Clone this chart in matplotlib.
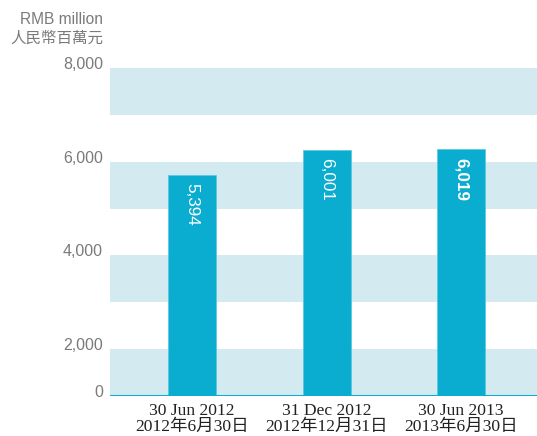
import matplotlib
matplotlib.use("Agg")
from matplotlib import pyplot as plt
from matplotlib.transforms import ScaledTranslation

# Данные
dates_en = ["30 Jun 2012", "31 Dec 2012", "30 Jun 2013"]
dates_zh = ["2012年6月30日", "2012年12月31日", "2013年6月30日"]
values = [5394, 6001, 6019]
value_labels = ["5,394", "6,001", "6,019"]
tick_labels = ["0", "2,000", "4,000", "6,000", "8,000"]
y_max = 8000

BAR = "#0aadd0"
BAND = "#d3eaf1"
GRAY = "#7a7a7a"

fig = plt.figure(figsize=(5.37, 4.36), dpi=100)
ax = fig.add_axes([110 / 537, 40 / 436, 427 / 537, 328 / 436])

# Полосы фона: шкала из 7 равных ступеней, подписи стоят на верхних краях полос
step = y_max / 7
for k in range(0, 7, 2):
    ax.axhspan(k * step, (k + 1) * step, color=BAND, lw=0, zorder=0)

x = range(len(values))
ax.bar(x, values, width=0.357, color=BAR, edgecolor="#5cc8e0", linewidth=0.6, zorder=2)
ax.axhline(0, color=BAR, lw=2.2, zorder=3)

for i, (v, lab) in enumerate(zip(values, value_labels)):
    ax.annotate(lab, (i, v), xytext=(0, -6), textcoords="offset points",
                rotation=-90, ha="center", va="top", color="white",
                fontsize=12.3, family="Liberation Sans",
                fontweight="bold" if i == len(values) - 1 else "normal", zorder=4)

ax.set_xlim(-0.61, 2.565)
ax.set_ylim(0, y_max)

tick_pos = [0] + [(k + 1) * step for k in range(0, 7, 2)]
ax.set_yticks(tick_pos, tick_labels)
ax.set_xticks(list(x), [f"{e}\n{z}" for e, z in zip(dates_en, dates_zh)])
ax.tick_params(axis="y", length=0, pad=5, labelcolor=GRAY, labelsize=11.5)
ax.tick_params(axis="x", length=0, pad=5, labelcolor="#222222")
for t in ax.get_yticklabels():
    t.set_family("Liberation Sans")
    t.set_transform(t.get_transform() + ScaledTranslation(0, 5 / 100, fig.dpi_scale_trans))
for t in ax.get_xticklabels():
    t.set_family(["Liberation Serif", "Noto Sans CJK SC"])
    t.set_fontsize(12.6)
    t.set_linespacing(1.0)

for s in ax.spines.values():
    s.set_visible(False)

fig.text(103 / 537, 1 - 19 / 436, "RMB million", ha="right", va="center",
         color=GRAY, fontsize=11.2, family="Liberation Sans")
fig.text(103 / 537, 1 - 38 / 436, "人民幣百萬元", ha="right", va="center",
         color=GRAY, fontsize=11.2, family=["Noto Sans CJK TC", "DejaVu Sans"])

fig.savefig("out.png", dpi=100)
